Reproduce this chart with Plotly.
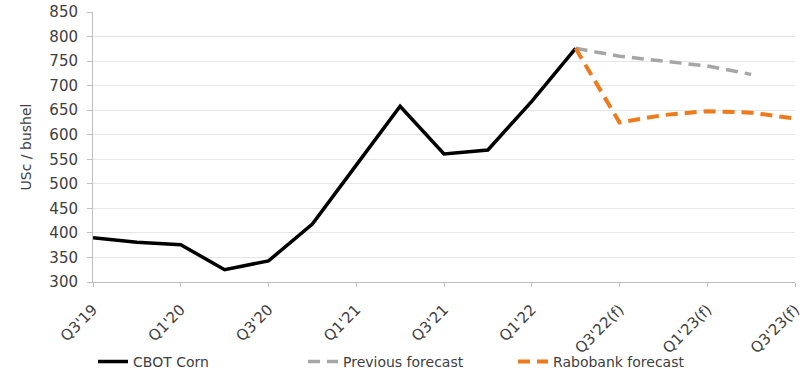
import plotly.graph_objects as go

quarters = ["Q3'19", "Q4'19", "Q1'20", "Q2'20", "Q3'20", "Q4'20", "Q1'21", "Q2'21",
            "Q3'21", "Q4'21", "Q1'22", "Q2'22", "Q3'22(f)", "Q4'22(f)", "Q1'23(f)",
            "Q2'23(f)", "Q3'23(f)"]
tick_labels = ["Q3'19", "Q1'20", "Q3'20", "Q1'21", "Q3'21", "Q1'22", "Q3'22(f)", "Q1'23(f)", "Q3'23(f)"]

cbot_corn = [390, 381, 376, 325, 343, 418, 538, 658, 561, 569, 668, 776]
previous_forecast = [776, 760, 750, 740, 723]
rabobank_forecast = [776, 625, 640, 648, 645, 633]

x_idx = list(range(len(quarters)))
x_cbot = x_idx[:len(cbot_corn)]
x_prev = x_idx[11:11 + len(previous_forecast)]
x_rabo = x_idx[11:11 + len(rabobank_forecast)]

fig = go.Figure()
fig.add_trace(go.Scatter(x=x_cbot, y=cbot_corn, mode="lines", name="CBOT Corn",
                         line=dict(color="#000000", width=3.5)))
fig.add_trace(go.Scatter(x=x_prev, y=previous_forecast, mode="lines", name="Previous forecast",
                         line=dict(color="#A6A6A6", width=3.5, dash="12px,7px")))
fig.add_trace(go.Scatter(x=x_rabo, y=rabobank_forecast, mode="lines", name="Rabobank forecast",
                         line=dict(color="#EE7A1C", width=4, dash="12px,7px")))

font_family = "DejaVu Sans"
fig.update_layout(
    width=803, height=375,
    margin=dict(l=93, r=8, t=12, b=93, autoexpand=False),
    paper_bgcolor="white", plot_bgcolor="white",
    font=dict(family=font_family, size=14, color="#404040"),
    showlegend=True,
    legend=dict(orientation="h", x=0.0, xanchor="left", y=-0.296, yanchor="middle",
                entrywidth=165, entrywidthmode="pixels", tracegroupgap=0,
                font=dict(size=14, color="#404040"), bgcolor="rgba(0,0,0,0)"),
    xaxis=dict(range=[0, 16], tickmode="array",
               tickvals=[x_idx[quarters.index(t)] for t in tick_labels],
               ticktext=tick_labels, tickangle=-45, automargin=False,
               ticklabelstandoff=8, ticklabeloverflow="allow",
               showgrid=False, zeroline=False,
               showline=True, linecolor="#BFBFBF", linewidth=1,
               ticks="outside", ticklen=4, tickcolor="#BFBFBF",
               tickfont=dict(size=15, color="#404040")),
    yaxis=dict(range=[300, 850], tick0=300, dtick=50, automargin=False,
               ticklabelstandoff=6,
               showgrid=True, gridcolor="#E6E6E6", gridwidth=1,
               zeroline=False, showline=True, linecolor="#BFBFBF", linewidth=1,
               ticks="outside", ticklen=5, tickcolor="#BFBFBF",
               tickfont=dict(size=15, color="#404040")),
)
fig.update_yaxes(title=dict(text="USc / bushel", font=dict(size=14, color="#404040"), standoff=14))

fig.write_html("out.html")
